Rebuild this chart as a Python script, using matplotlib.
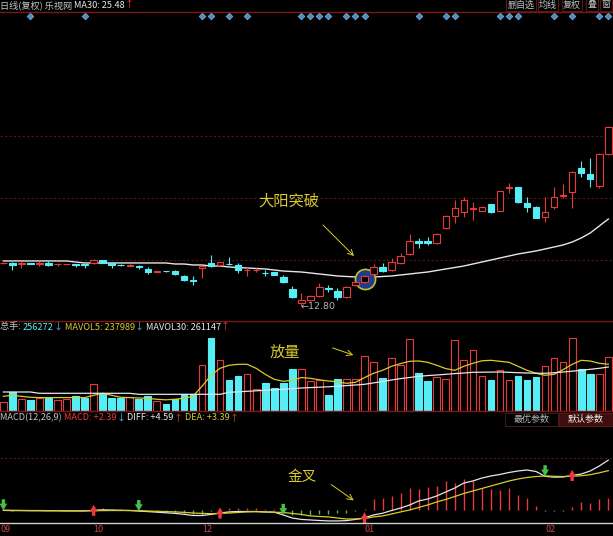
import matplotlib
matplotlib.use('Agg')
import matplotlib.pyplot as plt
import numpy as np
from matplotlib.patches import Rectangle
from matplotlib import transforms

plt.rcParams['font.family'] = ['Noto Sans CJK SC', 'DejaVu Sans']

# daily candles (复权 prices)
opens = [19.04, 19.15, 18.89, 19.08, 18.98, 19.11, 18.90, 18.92, 18.96, 18.96,
         19.08, 19.54, 19.11, 18.85, 18.67, 18.72, 18.28, 17.80, 17.94, 17.94,
         17.18, 16.64, 18.40, 19.11, 18.77, 19.00, 18.77, 18.05, 18.09, 17.70,
         17.76, 17.03, 15.38, 13.26, 13.74, 14.32, 15.50, 15.09, 14.22, 15.92,
         16.40, 17.51, 18.57, 18.09, 19.15, 20.41, 22.30, 22.25, 22.05, 24.14,
         25.97, 26.54, 27.00, 26.69, 27.61, 26.69, 29.95, 30.08, 27.76, 27.18,
         25.73, 27.27, 28.82, 29.44, 32.84, 31.97, 30.27, 34.91]
highs = [19.25, 19.25, 19.40, 19.15, 19.40, 19.40, 19.11, 19.00, 19.00, 18.98,
         19.73, 19.60, 19.15, 18.90, 18.90, 18.86, 18.48, 17.95, 18.00, 18.09,
         17.30, 17.18, 18.65, 20.31, 19.30, 20.04, 19.11, 18.48, 18.38, 18.05,
         17.80, 17.41, 15.72, 14.71, 14.50, 16.16, 15.92, 15.44, 15.80, 16.50,
         17.40, 19.00, 19.10, 19.80, 20.55, 23.30, 22.70, 22.90, 23.40, 26.10,
         28.24, 28.72, 27.99, 27.40, 27.70, 29.60, 30.75, 30.15, 28.72, 27.30,
         28.63, 30.17, 30.60, 32.40, 33.95, 34.29, 35.00, 38.90]
lows = [18.96, 18.13, 18.38, 18.90, 18.67, 18.60, 18.67, 18.90, 18.53, 18.38,
        18.93, 19.05, 18.38, 18.70, 18.60, 18.28, 17.51, 17.75, 17.85, 17.32,
        16.50, 15.96, 16.93, 18.55, 18.70, 18.85, 17.66, 17.22, 17.80, 17.22,
        17.35, 16.16, 14.03, 12.80, 13.60, 14.20, 14.95, 13.74, 14.10, 15.80,
        16.20, 17.30, 17.80, 17.90, 18.90, 20.30, 21.30, 21.70, 21.90, 24.00,
        24.91, 25.82, 25.34, 26.60, 26.40, 26.60, 29.21, 27.80, 26.54, 25.60,
        25.10, 27.00, 28.50, 27.09, 31.60, 30.17, 30.00, 34.80]
closes = [19.11, 18.77, 19.04, 18.98, 19.08, 18.77, 19.00, 18.98, 18.77, 18.85,
          19.50, 19.11, 18.77, 18.77, 18.82, 18.53, 17.80, 17.90, 17.90, 17.51,
          16.60, 16.45, 18.60, 18.63, 19.25, 18.90, 18.13, 18.13, 18.16, 17.60,
          17.41, 16.31, 14.18, 13.74, 14.32, 15.67, 15.40, 14.22, 15.67, 16.40,
          17.22, 18.57, 17.99, 19.29, 20.12, 22.34, 22.05, 22.05, 23.27, 25.92,
          27.04, 28.24, 27.10, 27.27, 26.46, 29.54, 30.07, 27.91, 27.18, 25.67,
          26.46, 28.63, 28.97, 32.34, 32.11, 31.29, 34.87, 38.78]
ma30 = [19.40, 19.40, 19.40, 19.40, 19.40, 19.40, 19.40, 19.40, 19.25, 19.11,
        19.11, 19.11, 19.11, 19.11, 19.11, 19.11, 19.11, 19.11, 19.11, 18.96,
        18.96, 18.82, 18.82, 18.67, 18.67, 18.53, 18.45, 18.38, 18.31, 18.24,
        18.09, 17.94, 17.87, 17.80, 17.66, 17.51, 17.37, 17.22, 17.15, 17.08,
        17.08, 17.08, 17.15, 17.22, 17.37, 17.51, 17.66, 17.80, 18.02, 18.24,
        18.45, 18.67, 18.96, 19.25, 19.54, 19.83, 20.12, 20.41, 20.63, 20.85,
        21.14, 21.43, 21.72, 22.15, 22.73, 23.46, 24.47, 25.48]
info_days = [3, 9, 22, 23, 25, 27, 33, 34, 35, 36, 38, 39, 40, 46, 49, 50,
             55, 56, 57, 61, 63, 66, 67]

# volume (手)
volume = [42700, 90200, 58400, 50800, 63200, 63200, 50800, 55600, 69800, 63200,
          126800, 79300, 63200, 63200, 66500, 58400, 69800, 46100, 31800, 55600,
          82200, 79300, 217100, 348200, 240800, 145800, 164800, 177200, 105900, 134400,
          110700, 134400, 198100, 200900, 141100, 145800, 74600, 153400, 153400, 153400,
          259800, 232800, 156800, 253200, 217100, 343400, 181900, 142500, 161500, 153400,
          338700, 240800, 288300, 164800, 145800, 196200, 145800, 164800, 148700, 161500,
          212300, 253200, 232800, 348200, 200900, 174300, 174300, 256272]
mavol5 = [69800, 74600, 69800, 65100, 63700, 63700, 63700, 63700, 63700, 63700,
          74600, 84100, 74600, 65100, 63700, 61800, 60300, 55600, 53200, 55600,
          60300, 69800, 117300, 169600, 202800, 217100, 221800, 221800, 202800, 174300,
          150600, 141100, 145800, 158700, 155300, 148200, 142500, 138700, 131600, 136300,
          158700, 179100, 193300, 212300, 225200, 236100, 237500, 231300, 217100, 201400,
          193300, 212300, 226600, 238500, 240800, 236100, 231300, 212300, 193300, 179100,
          169600, 174300, 196700, 221800, 240800, 237500, 226600, 222000]
mavol30 = [90300, 90300, 90300, 90300, 84100, 84100, 84100, 84100, 84100, 84100,
           84100, 84100, 84100, 84100, 84100, 79300, 79300, 79300, 79300, 79300,
           79300, 79300, 79300, 79300, 79300, 88800, 91200, 93600, 96000, 98300,
           100700, 103100, 105900, 109300, 111200, 113100, 115000, 117800, 120700, 123500,
           126800, 133500, 140100, 147300, 153900, 159100, 164800, 168200, 171000, 174300,
           177700, 180500, 183800, 184300, 184800, 185300, 183800, 181900, 180500, 179600,
           179100, 181900, 185300, 189100, 193300, 198100, 202800, 209000]

# MACD(12,26,9)
diff = [-0.04, -0.06, -0.06, -0.07, -0.07, -0.08, -0.08, -0.09, -0.09, -0.09,
        -0.03, 0.01, -0.01, -0.03, -0.05,
        -0.10, -0.15, -0.20, -0.26, -0.31, -0.40, -0.51, -0.51, -0.41,
        -0.28, -0.18, -0.14, -0.14, -0.14, -0.18, -0.20,
        -0.46, -0.74, -0.87, -0.92, -0.97, -1.01, -1.01, -0.98, -0.87,
        -0.72, -0.46, -0.30, -0.05, 0.18, 0.46, 0.83, 1.01, 1.29, 1.66,
        2.02, 2.48, 2.67, 2.94, 3.13, 3.27, 3.45, 3.59, 3.68, 3.54,
        3.10, 3.02, 3.04, 3.18, 3.31, 3.59, 4.05, 4.59]
dea = [-0.02, -0.03, -0.04, -0.05, -0.05, -0.06, -0.06, -0.07, -0.07, -0.08,
       -0.07, -0.06, -0.05, -0.05, -0.05,
       -0.06, -0.10, -0.12, -0.15, -0.18, -0.22, -0.28, -0.32, -0.34,
       -0.32, -0.28, -0.23, -0.18, -0.16, -0.19, -0.21,
       -0.23, -0.32, -0.41, -0.55, -0.60, -0.64, -0.74, -0.83, -0.83,
       -0.78, -0.64, -0.55, -0.37, -0.18, 0.00, 0.23, 0.46, 0.74, 0.97,
       1.24, 1.52, 1.75, 1.98, 2.21, 2.44, 2.67, 2.85, 2.99, 3.08,
       3.13, 3.10, 3.08, 3.10, 3.15, 3.25, 3.42, 3.62]
macd = [-0.04, -0.05, -0.04, -0.04, -0.04, -0.04, -0.04, -0.04, -0.04, -0.02,
        0.08, 0.14, 0.12, 0.08, 0.03,
        -0.06, -0.10, -0.14, -0.18, -0.22, -0.30, -0.40, -0.38, -0.14,
        0.08, 0.18, 0.20, 0.18, 0.15, 0.10, 0.05,
        -0.30, -0.45, -0.50, -0.45, -0.40, -0.35, -0.30, -0.25, -0.10,
        0.10, 0.98, 1.08, 1.29, 1.59, 2.00, 1.90, 2.09, 2.21, 2.70,
        2.51, 2.82, 2.67, 2.05, 1.90, 1.84, 2.00, 1.38, 1.08, 0.37,
        -0.05, -0.10, -0.06, 0.30, 0.76, 0.67, 0.98, 1.08]
dead_cross = [0, 15, 31, 60]
golden_cross = [10, 24, 40, 63]

date_ticks = [0, 10, 22, 40, 60]
date_labels = ['09', '10', '12', '01', '02']

RED = '#e83a3a'
CYAN = '#56eef4'
GREEN = '#48c048'
YELLOW = '#d8cc2c'
WHITE = '#e6e6e6'
BORDER = '#7a1818'
GRID = '#5a1414'

W, H = 613.0, 536.0
fig = plt.figure(figsize=(W / 100, H / 100), dpi=100, facecolor='black')


def panel(top, bottom):
    ax = fig.add_axes([0, 1 - bottom / H, 1, (bottom - top) / H])
    ax.set_facecolor('black')
    ax.set_xlim(-0.37, 67.52)
    ax.set_xticks([])
    ax.set_yticks([])
    for s in ax.spines.values():
        s.set_visible(False)
    return ax


axp = panel(12, 320)
axv = panel(323, 411)
axm = panel(412, 523)
axp.set_ylim(10.84, 55.5)
axv.set_ylim(0, 418000)
axm.set_ylim(-1.2, 9.02)

x = np.arange(len(closes))

# price grid
for f in [0.195, 0.397, 0.598]:
    axp.plot([0, 1], [f, f], transform=axp.transAxes, color=GRID, lw=0.8,
             ls=(0, (2, 2)), zorder=0)
axm.plot([0, 1], [0.585, 0.585], transform=axm.transAxes, color=GRID, lw=0.8,
         ls=(0, (2, 2)), zorder=0)

# candles
for i in x:
    o, h, l, c = opens[i], highs[i], lows[i], closes[i]
    if c >= o:
        axp.add_patch(Rectangle((i - 0.36, o), 0.72, max(c - o, 0.04), fc='black',
                                ec=RED, lw=0.8, zorder=3))
        axp.vlines(i, c, h, color=RED, lw=0.8, zorder=3)
        axp.vlines(i, l, o, color=RED, lw=0.8, zorder=3)
    else:
        axp.add_patch(Rectangle((i - 0.36, c), 0.72, o - c, fc=CYAN, ec=CYAN,
                                lw=0.8, zorder=3))
        axp.vlines(i, l, h, color=CYAN, lw=0.8, zorder=3)

axp.plot(x, ma30, color=WHITE, lw=1.0, zorder=2)

# breakout circle
axp.plot(40, (opens[40] + closes[40]) / 2, 'o', ms=14.5, mfc='#1d3c8e',
         mec='#c8c030', mew=1.2, zorder=2.5)

low_i = int(np.argmin(lows))
axp.text(low_i - 0.1, lows[low_i], '←%.2f' % lows[low_i], color='#b4b4b4',
         fontsize=6.8, ha='left', va='center', family=['DejaVu Sans'])

tr = transforms.blended_transform_factory(axp.transData, axp.transAxes)
axp.plot(info_days, [0.988] * len(info_days), transform=tr, marker='D', ms=3.4,
         color='#4a8ec8', mec='#7ab4e0', mew=0.5, ls='none')

# volume
up = [closes[i] >= opens[i] for i in x]
axv.bar(x, volume, width=0.74, color=['black' if u else CYAN for u in up],
        edgecolor=[RED if u else CYAN for u in up], lw=0.8, zorder=2)
axv.plot(x, mavol5, color=YELLOW, lw=0.9, zorder=3)
axv.plot(x, mavol30, color=WHITE, lw=0.9, zorder=3)

# MACD
axm.vlines(x, 0, macd, colors=[RED if m > 0 else GREEN for m in macd], lw=1.0)
axm.plot(x, diff, color=WHITE, lw=0.9)
axm.plot(x, dea, color=YELLOW, lw=0.9)
arrow = 'simple,head_width=0.8,head_length=0.7,tail_width=0.35'
for i in dead_cross:
    axm.annotate('', xy=(i, diff[i]), xytext=(0, 8), textcoords='offset points',
                 arrowprops=dict(arrowstyle=arrow, color=GREEN, lw=0,
                                 shrinkA=0, shrinkB=0, mutation_scale=7))
tip = transforms.offset_copy(axm.transData, fig=fig, y=4, units='points')
for i in golden_cross:
    axm.annotate('', xy=(i, diff[i]), xycoords=tip, xytext=(0, -8),
                 textcoords='offset points',
                 arrowprops=dict(arrowstyle=arrow, color=RED, lw=0,
                                 shrinkA=0, shrinkB=0, mutation_scale=7))

trd = transforms.blended_transform_factory(axm.transData, fig.transFigure)
for t, s in zip(date_ticks, date_labels):
    axm.text(t - 0.35 if t == 0 else t, 1 - 530 / H, s, transform=trd,
             color='#c84646', fontsize=6.5, ha='left', va='center')

# overlay in pixel coordinates for headers / notes
ax0 = fig.add_axes([0, 0, 1, 1], zorder=10)
ax0.set_xlim(0, W)
ax0.set_ylim(H, 0)
ax0.axis('off')
ax0.patch.set_alpha(0)

for yy in [11.5, 321, 411]:
    ax0.plot([0, W], [yy, yy], color=BORDER, lw=1.0)
ax0.plot([0, W], [523, 523], color='#cfcfcf', lw=1.0)


def chain(y, parts, size=6.6):
    t = ax0.text(0, y, parts[0][0], color=parts[0][1], fontsize=size,
                 ha='left', va='center')
    for s, c in parts[1:]:
        t = ax0.annotate(s, xy=(1, 0.5), xycoords=t, color=c, fontsize=size,
                         ha='left', va='center')


chain(5, [('日线(复权) 乐视网', '#c4c4c4'), (' MA30: 25.48', WHITE), ('↑', RED)])
chain(327, [('总手: ', '#c8c8c8'), ('256272', CYAN), ('↓', '#5ab4f0'),
            (' MAVOL5: 237989', YELLOW), ('↓', '#5ab4f0'),
            (' MAVOL30: 261147', WHITE), ('↑', RED)])
chain(418, [('MACD(12,26,9) ', '#c4c4c4'), ('MACD: +2.39', RED), ('↓', '#5ab4f0'),
            (' DIFF: +4.59', WHITE), ('↑', RED), (' DEA: +3.39', YELLOW), ('↑', RED)])

for cx, s in [(521, '删自选'), (548, '均线'), (572, '复权'), (592, '叠'), (606, '窗')]:
    ax0.text(cx, 5, s, color='#c4c4c4', fontsize=6.5, ha='center', va='center',
             bbox=dict(boxstyle='square,pad=0.12', fc='black', ec='#5a1616', lw=0.8))

ax0.add_patch(Rectangle((505, 413), 53, 13, fc='black', ec='#3c1a1a', lw=0.8))
ax0.add_patch(Rectangle((559, 413), 54, 13, fc='#3e0e0e', ec='#5a1616', lw=0.8))
ax0.text(531.5, 419.5, '最优参数', color='#b4b4b4', fontsize=6.5, ha='center', va='center')
ax0.text(586, 419.5, '默认参数', color='#f0f0f0', fontsize=6.5, ha='center', va='center')

ax0.text(258, 201, '大阳突破', color=YELLOW, fontsize=11, ha='left', va='center')
ax0.annotate('', xy=(356, 258), xytext=(321, 223),
             arrowprops=dict(arrowstyle='->', color=YELLOW, lw=0.7))
ax0.text(270, 353, '放量', color=YELLOW, fontsize=11, ha='left', va='center')
ax0.annotate('', xy=(356, 356), xytext=(330, 347),
             arrowprops=dict(arrowstyle='->', color=YELLOW, lw=0.7))
ax0.text(288, 477, '金叉', color=YELLOW, fontsize=10.5, ha='left', va='center')
ax0.annotate('', xy=(356, 502), xytext=(329, 483),
             arrowprops=dict(arrowstyle='->', color=YELLOW, lw=0.7))

fig.savefig('out.png', dpi=100, facecolor='black')
